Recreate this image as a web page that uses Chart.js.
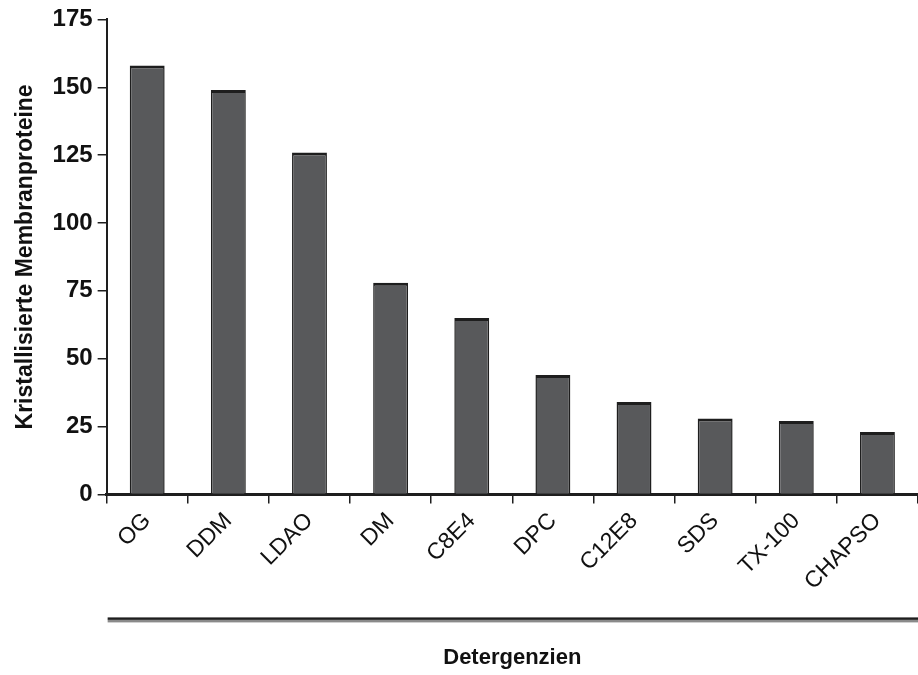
<!DOCTYPE html>
<html>
<head>
<meta charset="utf-8">
<script src="https://cdn.jsdelivr.net/npm/chart.js@4/dist/chart.umd.min.js"></script>
<style>
  html, body { margin: 0; padding: 0; background: #fff; }
  #wrap { width: 918px; height: 675px; position: relative; }
</style>
</head>
<body>
<div id="wrap"><canvas id="grafico"></canvas></div>
<script>
// Daten
var DETERGENZIEN = ['OG', 'DDM', 'LDAO', 'DM', 'C8E4', 'DPC', 'C12E8', 'SDS', 'TX-100', 'CHAPSO'];
var PROTEINE     = [158, 149, 126, 78, 65, 44, 34, 28, 27, 23];
var Y_TICKS      = [0, 25, 50, 75, 100, 125, 150, 175];

var SCHWARZ = '#1e1e1e';
var GRAU    = '#58595b';

Chart.defaults.font.family = "'Liberation Sans', Arial, sans-serif";
Chart.defaults.color = SCHWARZ;

// doppelte Linie zwischen Beschriftung und Achsentitel
var trennLinie = {
  id: 'trennLinie',
  afterDraw: function(chart) {
    var c = chart.ctx;
    var a = chart.chartArea;
    var y = a.bottom + 123;
    c.save();
    c.fillStyle = SCHWARZ;
    c.fillRect(a.left + 1, y, chart.width - a.left, 2.5);
    c.fillStyle = '#8a8a8a';
    c.fillRect(a.left + 1, y + 2.5, chart.width - a.left, 2.5);
    c.restore();
  }
};

new Chart(document.getElementById('grafico'), {
  type: 'bar',
  data: {
    labels: DETERGENZIEN,
    datasets: [{
      data: PROTEINE,
      backgroundColor: GRAU,
      borderColor: SCHWARZ,
      borderWidth: { top: 3, left: 1.5, right: 1.5, bottom: 0 },
      borderSkipped: 'start',
      barPercentage: 0.43,
      categoryPercentage: 1
    }]
  },
  options: {
    responsive: true,
    maintainAspectRatio: false,
    animation: false,
    layout: { padding: { top: 12, right: 0, bottom: 4, left: 12 } },
    plugins: {
      legend: { display: false },
      tooltip: { enabled: false }
    },
    scales: {
      y: {
        min: 0,
        max: 175,
        afterBuildTicks: function(ax) {
          ax.ticks = Y_TICKS.map(function(v) { return { value: v }; });
        },
        grid: { drawOnChartArea: false, drawTicks: true, tickLength: 9, color: SCHWARZ, lineWidth: 1.5 },
        border: { color: SCHWARZ, width: 2 },
        ticks: { font: { size: 24, weight: 'bold' }, color: '#111', padding: 5 },
        title: {
          display: true,
          text: 'Kristallisierte Membranproteine',
          font: { size: 23, weight: 'bold' },
          color: '#111',
          padding: { top: 0, bottom: 8 }
        }
      },
      x: {
        grid: { offset: true, drawOnChartArea: false, drawTicks: true, tickLength: 9, color: SCHWARZ, lineWidth: 1.5 },
        border: { color: SCHWARZ, width: 3 },
        ticks: { font: { size: 23 }, color: '#111', minRotation: 45, maxRotation: 45, padding: 4 },
        title: {
          display: true,
          text: 'Detergenzien',
          font: { size: 22, weight: 'bold' },
          color: '#111',
          padding: { top: 45, bottom: 0 }
        }
      }
    }
  },
  plugins: [trennLinie]
});
</script>
</body>
</html>
